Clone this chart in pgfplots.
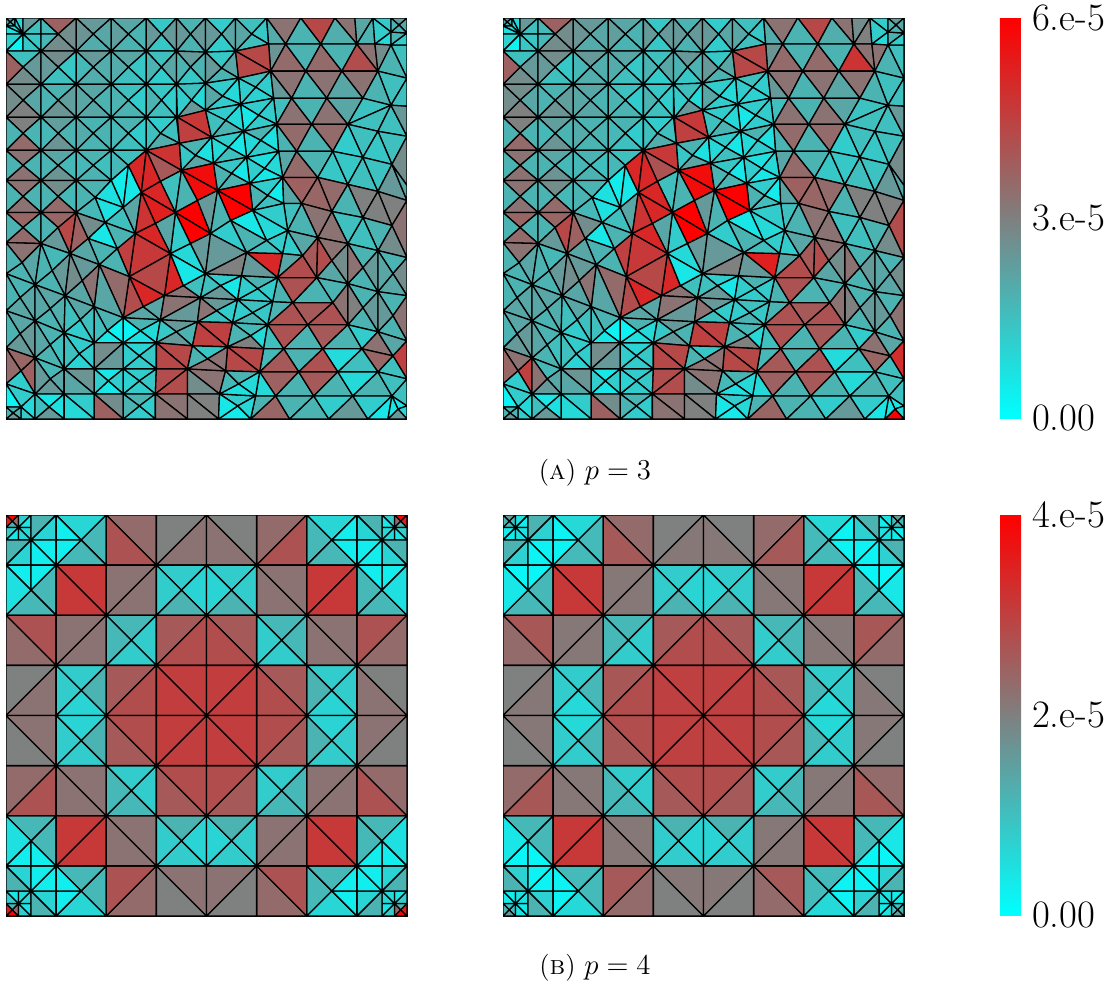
\documentclass[border=0pt]{standalone}
\usepackage{pgfplots}
\pgfplotsset{compat=1.18}
\def\mT#1#2#3#4{(#1) [#4] (#2) [#4] (#3) [#4] }
\def\mQ#1#2#3#4#5#6#7#8#9{\mT{#1}{#2}{#3}{#6}\mT{#1}{#3}{#4}{#7}\mT{#1}{#4}{#5}{#8}\mT{#1}{#5}{#2}{#9}}
\def\mC#1#2{\pick{#1}{#2}}
\def\mP#1#2{(\the\numexpr#1\relax,\the\numexpr#2\relax)}
\def\mTp#1#2#3#4#5#6#7{\mP{#1}{#2} [#7] \mP{#3}{#4} [#7] \mP{#5}{#6} [#7] }
\def\mTb#1#2#3#4#5#6#7{\mTp{#1}{#2}{#3}{#4}{#5}{#6}{#7}%
\mTp{1600-(#1)}{#2}{1600-(#3)}{#4}{1600-(#5)}{#6}{#7}%
\mTp{#1}{1600-(#2)}{#3}{1600-(#4)}{#5}{1600-(#6)}{#7}%
\mTp{1600-(#1)}{1600-(#2)}{1600-(#3)}{1600-(#4)}{1600-(#5)}{1600-(#6)}{#7}}
\def\mD#1#2#3#4#5{\mTb{#1}{#2}{#1+#3}{#2}{#1+#3}{#2+#3}{#4}\mTb{#1}{#2}{#1}{#2+#3}{#1+#3}{#2+#3}{#5}}
\def\mA#1#2#3#4#5{\mTb{#1}{#2}{#1+#3}{#2}{#1}{#2+#3}{#4}\mTb{#1+#3}{#2}{#1+#3}{#2+#3}{#1}{#2+#3}{#5}}
\def\mX#1#2#3#4#5#6#7{\mTb{#1}{#2}{#1+#3}{#2}{#1+#3/2}{#2+#3/2}{#4}\mTb{#1+#3}{#2}{#1+#3}{#2+#3}{#1+#3/2}{#2+#3/2}{#5}\mTb{#1}{#2+#3}{#1+#3}{#2+#3}{#1+#3/2}{#2+#3/2}{#6}\mTb{#1}{#2}{#1}{#2+#3}{#1+#3/2}{#2+#3/2}{#7}}
% ---------- p=3 mesh (pixel coordinates); \mC{left}{right} where the panels differ
\def\meshTop{%
\mQ{10,22}{6,18}{15,18}{15,26}{6,26}{\mC{40}{45}}{30}{30}{30}
\mT{15,18}{23,18}{23,34}{15}\mT{15,18}{23,34}{15,26}{15}\mT{6,26}{15,26}{23,34}{12}\mT{6,26}{23,34}{6,34}{12}
\mT{23,18}{41,18}{23,34}{40}\mT{41,18}{41,34}{23,34}{25}
\mT{6,34}{23,34}{6,51}{18}\mT{23,34}{23,51}{6,51}{5}
\mT{23,34}{41,34}{41,51}{22}\mT{23,34}{23,51}{41,51}{22}
\mT{41,18}{76,18}{58,34}{62}\mT{76,18}{76,51}{58,34}{45}\mT{41,51}{76,51}{58,34}{45}\mT{41,18}{58,34}{41,34}{28}\mT{41,34}{58,34}{41,51}{28}
\mQ{93,34}{76,18}{111,18}{111,51}{76,51}{40}{35}{33}{42}
\mQ{128,34}{111,18}{146,18}{146,51}{111,51}{35}{30}{30}{38}
\mQ{161,34}{146,18}{176,18}{176,51}{146,51}{22}{40}{22}{40}
\mQ{190,34}{176,18}{205,18}{205,52}{176,51}{30}{40}{30}{40}
\mQ{221,34}{205,18}{235,18}{235,51}{205,52}{20}{35}{20}{40}
\mQ{251,34}{235,18}{266,18}{268,44}{235,51}{25}{22}{25}{35}
\mQ{23,67}{6,51}{41,51}{41,84}{6,84}{25}{40}{45}{62}
\mQ{58,67}{41,51}{76,51}{76,84}{41,84}{45}{22}{25}{40}
\mQ{93,67}{76,51}{111,51}{111,84}{76,84}{40}{32}{32}{28}
\mQ{128,67}{111,51}{146,51}{146,84}{111,84}{35}{22}{25}{33}
\mQ{161,67}{146,51}{176,51}{176,84}{146,84}{25}{35}{20}{30}
\mQ{190,67}{176,51}{205,52}{205,83}{176,84}{40}{30}{22}{30}
\mQ{221,68}{205,52}{235,51}{238,78}{205,83}{22}{35}{30}{40}
\mQ{23,100}{6,84}{41,84}{41,117}{6,117}{45}{35}{50}{45}
\mQ{58,100}{41,84}{76,84}{76,117}{41,117}{30}{38}{42}{30}
\mQ{93,100}{76,84}{111,84}{111,117}{76,117}{35}{30}{35}{35}
\mQ{128,100}{111,84}{146,84}{146,117}{111,117}{25}{20}{30}{30}
\mQ{161,100}{146,84}{176,84}{176,117}{146,117}{22}{20}{25}{30}
\mQ{191,100}{176,84}{205,83}{205,110}{177,117}{25}{15}{40}{20}
\mQ{23,133}{6,117}{41,117}{41,150}{6,150}{50}{30}{58}{30}
\mQ{58,133}{41,117}{76,117}{76,150}{41,150}{38}{30}{42}{28}
\mQ{93,133}{76,117}{111,117}{111,150}{76,150}{30}{30}{30}{33}
\mQ{128,133}{111,117}{146,117}{146,150}{111,150}{30}{20}{25}{28}
\mQ{160,133}{146,117}{176,117}{179,143}{146,150}{20}{25}{32}{25}
\mQ{23,165}{6,150}{41,150}{41,180}{6,180}{55}{30}{55}{30}
\mQ{58,165}{41,150}{76,150}{76,180}{41,180}{35}{28}{42}{30}
\mQ{93,165}{76,150}{111,150}{111,180}{76,180}{30}{25}{30}{28}
\mT{111,150}{146,150}{128,165}{25}\mT{111,150}{128,165}{111,180}{28}
\mQ{23,196}{6,180}{41,180}{41,212}{6,212}{55}{30}{55}{30}
\mQ{58,196}{41,180}{76,180}{76,212}{41,212}{45}{28}{58}{30}
\mQ{23,227}{6,212}{41,212}{41,243}{6,242}{60}{30}{58}{30}
\mT{41,212}{76,212}{58,227}{60}\mT{41,212}{58,227}{41,243}{30}\mT{41,243}{58,227}{70,253}{40}\mT{58,227}{76,212}{70,253}{72}\mT{76,212}{88,238}{70,253}{62}
\mT{76,180}{111,180}{95,197}{30}\mT{76,180}{95,197}{76,212}{30}\mT{76,212}{95,197}{105,222}{28}\mT{76,212}{105,222}{88,238}{45}
\mT{111,180}{128,165}{123,207}{8}\mT{128,165}{141,192}{123,207}{10}\mT{95,197}{111,180}{123,207}{12}\mT{95,197}{123,207}{105,222}{12}\mT{123,207}{135,233}{105,222}{25}\mT{123,207}{141,192}{135,233}{35}
\mT{146,150}{179,143}{181,170}{\mC{80}{78}}\mT{146,150}{181,170}{160,181}{\mC{65}{68}}
\mT{128,165}{146,150}{141,192}{85}\mT{146,150}{160,181}{141,192}{85}
\mT{160,181}{181,170}{175,212}{25}\mT{141,192}{160,181}{175,212}{85}\mT{141,192}{175,212}{155,223}{\mC{88}{85}}\mT{141,192}{155,223}{135,233}{80}
\mT{177,117}{205,110}{211,137}{78}\mT{177,117}{211,137}{179,143}{75}
\mQ{195,155}{179,143}{211,137}{213,163}{181,170}{30}{12}{35}{22}
\mT{181,170}{213,163}{217,190}{95}\mT{181,170}{217,190}{197,200}{95}\mT{181,170}{197,200}{175,212}{30}
\mT{175,212}{197,200}{210,233}{100}\mT{175,212}{210,233}{190,243}{100}\mT{197,200}{217,190}{210,233}{40}
\mT{175,212}{190,243}{170,253}{20}\mT{155,223}{175,212}{170,253}{35}
\mT{135,233}{155,223}{170,253}{85}\mT{135,233}{170,253}{129,276}{78}\mT{170,253}{183,285}{164,295}{85}\mT{129,276}{170,253}{164,295}{72}\mT{129,276}{164,295}{143,306}{85}\mT{129,276}{143,306}{123,317}{70}
\mT{117,248}{135,233}{129,276}{75}\mT{105,222}{135,233}{117,248}{30}\mT{99,264}{117,248}{129,276}{30}\mT{99,264}{129,276}{123,317}{58}\mT{94,306}{99,264}{123,317}{35}
\mT{88,238}{105,222}{117,248}{10}\mT{88,238}{117,248}{99,264}{30}\mT{70,253}{88,238}{99,264}{35}
\mQ{22,262}{6,242}{41,243}{35,284}{6,273}{55}{35}{30}{30}
\mQ{52,270}{41,243}{70,253}{65,295}{35,284}{28}{40}{30}{30}
\mQ{82,280}{70,253}{99,264}{94,306}{65,295}{40}{55}{35}{45}
\mQ{20,297}{6,273}{35,284}{35,320}{6,310}{30}{35}{35}{30}
\mQ{50,308}{35,284}{65,295}{64,332}{35,320}{35}{32}{30}{35}
\mQ{80,319}{65,295}{94,306}{94,342}{64,332}{35}{25}{20}{25}
\mQ{107,330}{94,306}{123,317}{123,342}{94,342}{30}{5}{10}{25}
\mQ{20,333}{6,310}{35,320}{35,357}{6,347}{35}{40}{40}{30}
\mQ{50,344}{35,320}{64,332}{64,368}{35,357}{30}{25}{30}{35}
\mQ{79,353}{64,332}{94,342}{94,368}{64,368}{20}{20}{17}{25}
\mT{94,342}{123,342}{94,368}{45}\mT{123,342}{123,368}{94,368}{40}
\mQ{139,355}{123,342}{156,342}{156,368}{123,368}{17}{22}{20}{20}
\mT{123,317}{143,306}{160,319}{35}
\mQ{140,330}{123,317}{160,319}{156,342}{123,342}{30}{15}{12}{5}
\mT{143,306}{164,295}{160,319}{35}\mT{164,295}{183,285}{200,297}{55}\mT{164,295}{200,297}{160,319}{55}
\mT{160,319}{200,297}{197,321}{40}\mT{160,319}{197,321}{176,331}{40}\mT{160,319}{176,331}{156,342}{22}\mT{176,331}{192,345}{156,342}{40}\mT{176,331}{197,321}{192,345}{30}
\mT{183,285}{205,273}{200,297}{25}\mT{170,253}{190,243}{205,273}{15}\mT{170,253}{205,273}{183,285}{10}\mT{190,243}{210,233}{205,273}{40}
\mQ{220,285}{205,273}{241,275}{237,299}{200,297}{20}{10}{40}{25}
\mQ{216,310}{200,297}{237,299}{232,322}{197,321}{40}{20}{25}{55}
\mT{156,342}{192,345}{187,368}{72}\mT{156,342}{187,368}{156,368}{72}
\mT{6,347}{35,357}{21,370}{\mC{60}{55}}\mT{6,347}{21,370}{6,383}{\mC{58}{60}}\mT{21,370}{35,357}{35,393}{\mC{62}{75}}\mT{21,370}{35,393}{6,383}{20}
\mQ{50,378}{35,357}{64,368}{64,393}{35,393}{28}{35}{40}{\mC{40}{55}}
\mT{64,368}{94,368}{94,393}{42}\mT{64,368}{94,393}{64,393}{35}
\mQ{108,380}{94,368}{123,368}{123,393}{94,393}{10}{20}{10}{20}
\mQ{139,380}{123,368}{156,368}{155,393}{123,393}{20}{22}{20}{18}
\mT{156,368}{187,368}{155,393}{70}\mT{187,368}{187,393}{155,393}{70}
\mT{6,383}{35,393}{21,406}{20}\mT{35,393}{35,418}{21,406}{15}\mT{21,418}{35,418}{21,406}{20}\mT{6,383}{21,406}{6,406}{5}
\mQ{13,412}{6,406}{21,406}{21,418}{6,418}{30}{30}{40}{30}
\mQ{49,406}{35,393}{64,393}{64,418}{35,418}{10}{12}{40}{25}
\mT{64,393}{94,393}{94,418}{20}\mT{64,393}{94,418}{64,418}{15}
\mT{94,393}{123,393}{123,418}{45}\mT{94,393}{123,418}{94,418}{62}
\mQ{139,405}{123,393}{155,393}{155,418}{123,418}{30}{20}{20}{30}
\mT{155,393}{187,393}{187,418}{55}\mT{155,393}{187,418}{155,418}{55}
\mT{187,368}{225,370}{219,393}{55}\mT{187,368}{219,393}{187,393}{45}
\mT{187,393}{219,393}{218,418}{50}\mT{187,393}{218,418}{187,418}{50}
% ---------- right half
\mT{266,18}{300,18}{285,44}{55}\mT{266,18}{285,44}{268,44}{33}\mT{300,18}{334,18}{320,44}{72}\mT{300,18}{320,44}{285,44}{30}
\mT{334,18}{354,18}{356,44}{55}\mT{334,18}{356,44}{320,44}{32}\mT{354,18}{372,18}{356,44}{\mC{35}{45}}\mT{372,18}{374,44}{356,44}{\mC{30}{50}}
\mT{372,18}{390,18}{390,32}{20}\mT{372,18}{390,32}{374,44}{20}\mT{374,44}{390,32}{390,45}{15}\mT{390,32}{406,33}{390,45}{30}
\mQ{398,25}{390,18}{406,18}{406,33}{390,32}{40}{35}{30}{30}
\mT{268,44}{285,44}{270,71}{42}\mT{285,44}{305,71}{270,71}{58}\mT{285,44}{320,44}{305,71}{30}\mT{320,44}{341,71}{305,71}{58}\mT{320,44}{356,44}{341,71}{30}
\mT{356,44}{377,71}{341,71}{\mC{70}{80}}\mT{356,44}{374,44}{377,71}{55}\mT{374,44}{390,45}{377,71}{\mC{45}{55}}
\mT{390,45}{406,45}{406,78}{25}\mT{390,45}{406,78}{377,71}{30}\mT{390,45}{406,33}{406,45}{20}
\mT{235,51}{268,44}{270,71}{72}\mT{235,51}{270,71}{238,78}{72}
\mQ{255,87}{238,78}{270,71}{273,98}{240,104}{25}{20}{18}{20}
\mQ{222,96}{205,83}{238,78}{240,104}{205,110}{20}{15}{20}{35}
\mT{270,71}{305,71}{291,98}{55}\mT{270,71}{291,98}{273,98}{40}\mT{305,71}{341,71}{326,98}{55}\mT{305,71}{326,98}{291,98}{30}\mT{341,71}{377,71}{362,98}{55}\mT{341,71}{362,98}{326,98}{35}
\mT{377,71}{406,78}{390,105}{25}\mT{377,71}{390,105}{362,98}{30}\mT{406,78}{406,106}{390,105}{25}
\mT{273,98}{291,98}{276,124}{25}\mT{291,98}{311,124}{276,124}{55}\mT{291,98}{326,98}{311,124}{30}\mT{326,98}{347,124}{311,124}{55}\mT{326,98}{362,98}{347,124}{35}
\mT{362,98}{390,105}{347,124}{24}\mT{390,105}{377,131}{347,124}{25}\mT{390,105}{406,136}{377,131}{25}\mT{390,105}{406,106}{406,136}{40}
\mQ{258,115}{240,104}{273,98}{276,124}{243,131}{20}{20}{20}{10}
\mQ{225,120}{205,110}{240,104}{243,131}{211,137}{20}{15}{30}{25}
\mQ{260,140}{243,131}{276,124}{278,151}{246,157}{30}{12}{20}{15}
\mQ{228,147}{211,137}{243,131}{246,157}{213,163}{20}{10}{25}{15}
\mT{276,124}{311,124}{296,151}{58}\mT{276,124}{296,151}{278,151}{30}\mT{311,124}{347,124}{332,151}{58}\mT{311,124}{332,151}{296,151}{30}
\mT{347,124}{377,131}{362,157}{25}\mT{347,124}{362,157}{332,151}{20}\mT{377,131}{406,136}{391,164}{25}\mT{377,131}{391,164}{362,157}{22}\mT{406,136}{406,185}{391,164}{45}
\mT{278,151}{296,151}{282,177}{35}\mT{296,151}{317,177}{282,177}{58}\mT{296,151}{332,151}{317,177}{30}\mT{332,151}{347,184}{317,177}{22}\mT{332,151}{362,157}{347,184}{22}
\mT{362,157}{377,191}{347,184}{25}\mT{362,157}{391,164}{377,191}{24}\mT{391,164}{406,200}{377,191}{40}\mT{391,164}{406,185}{406,200}{35}
\mQ{264,168}{246,157}{278,151}{282,177}{249,183}{12}{15}{10}{20}
\mQ{231,173}{213,163}{246,157}{249,183}{217,190}{22}{10}{30}{30}
\mQ{267,195}{249,183}{282,177}{283,203}{252,210}{20}{8}{25}{30}
\mT{217,190}{249,183}{252,210}{100}\mT{217,190}{252,210}{230,220}{100}
\mT{282,177}{317,177}{301,203}{62}\mT{282,177}{301,203}{283,203}{35}\mT{317,177}{347,184}{331,211}{58}\mT{317,177}{331,211}{301,203}{60}
\mT{347,184}{377,191}{362,217}{50}\mT{347,184}{362,217}{331,211}{30}\mT{377,191}{406,200}{391,225}{50}\mT{377,191}{391,225}{362,217}{50}\mT{406,200}{406,257}{391,225}{\mC{55}{70}}
\mT{391,225}{406,257}{377,250}{45}\mT{362,217}{391,225}{377,250}{30}\mT{362,217}{377,250}{347,243}{25}\mT{331,211}{362,217}{347,243}{25}\mT{331,211}{347,243}{317,237}{55}\mT{301,203}{331,211}{317,237}{55}
\mT{283,203}{301,203}{287,230}{25}\mT{301,203}{317,237}{287,230}{30}\mT{252,210}{283,203}{287,230}{20}\mT{252,210}{287,230}{266,240}{15}\mT{230,220}{252,210}{266,240}{10}
\mT{230,220}{266,240}{246,252}{30}\mT{287,230}{282,253}{266,240}{20}\mT{287,230}{302,255}{282,253}{20}\mT{287,230}{317,237}{302,255}{35}
\mT{246,252}{282,253}{277,277}{\mC{85}{88}}\mT{266,240}{282,253}{246,252}{25}\mT{282,253}{302,255}{277,277}{35}\mT{302,255}{316,277}{277,277}{70}\mT{302,255}{317,237}{316,277}{65}
\mT{317,237}{331,260}{316,277}{70}\mT{317,237}{347,243}{331,260}{55}\mT{331,260}{347,283}{316,277}{35}\mT{347,243}{347,283}{331,260}{45}
\mQ{362,267}{347,243}{377,250}{377,291}{347,283}{30}{40}{30}{55}
\mQ{392,273}{377,250}{406,257}{406,295}{377,291}{30}{45}{35}{35}
\mQ{362,307}{347,283}{377,291}{377,331}{347,324}{30}{40}{30}{50}
\mQ{392,315}{377,291}{406,295}{406,340}{377,331}{30}{55}{30}{40}
\mT{316,277}{347,283}{332,302}{30}\mT{316,277}{332,302}{292,302}{30}\mT{277,277}{316,277}{292,302}{68}\mT{277,277}{292,302}{272,301}{30}
\mQ{257,288}{241,275}{277,277}{272,301}{237,299}{30}{20}{20}{20}
\mT{217,190}{230,220}{210,233}{30}\mT{230,220}{246,252}{210,233}{20}\mT{210,233}{246,252}{205,273}{40}\mT{246,252}{241,275}{205,273}{50}\mT{246,252}{277,277}{241,275}{40}
\mT{332,302}{347,283}{347,324}{55}\mT{292,302}{332,302}{307,324}{65}\mT{332,302}{347,324}{307,324}{68}\mT{272,301}{292,302}{267,324}{30}\mT{292,302}{307,324}{267,324}{68}
\mQ{252,312}{237,299}{272,301}{267,324}{232,322}{25}{22}{30}{20}
\mT{267,324}{307,324}{283,348}{68}\mT{307,324}{322,348}{283,348}{30}\mT{307,324}{347,324}{322,348}{65}\mT{347,324}{361,348}{322,348}{30}\mT{347,324}{377,331}{361,348}{20}\mT{377,331}{392,355}{361,348}{55}
\mT{377,331}{406,340}{392,355}{35}\mT{406,340}{406,378}{392,355}{\mC{75}{82}}\mT{392,355}{406,378}{377,371}{25}\mT{361,348}{392,355}{377,371}{60}
\mT{361,348}{377,371}{337,371}{25}\mT{322,348}{361,348}{337,371}{14}\mT{283,348}{322,348}{298,371}{30}\mT{322,348}{337,371}{298,371}{68}\mT{283,348}{298,371}{259,371}{65}
\mT{259,371}{298,371}{275,395}{62}\mT{298,371}{313,395}{275,395}{30}\mT{298,371}{337,371}{313,395}{65}\mT{337,371}{352,395}{313,395}{30}\mT{337,371}{377,371}{352,395}{15}\mT{377,371}{391,395}{352,395}{30}\mT{377,371}{406,378}{391,395}{25}\mT{406,378}{406,405}{391,395}{25}
\mT{259,371}{275,395}{255,395}{15}\mT{275,395}{289,418}{250,418}{60}\mT{255,395}{275,395}{250,418}{30}\mT{275,395}{313,395}{289,418}{30}\mT{313,395}{328,418}{289,418}{30}\mT{313,395}{352,395}{328,418}{20}\mT{352,395}{367,418}{328,418}{40}\mT{352,395}{391,395}{367,418}{20}\mT{367,418}{391,395}{387,418}{10}
\mQ{397,408}{391,395}{406,405}{406,418}{387,418}{10}{15}{\mC{40}{100}}{10}
\mQ{237,405}{219,393}{255,395}{250,418}{218,418}{20}{15}{8}{10}
\mT{197,321}{232,322}{227,346}{75}\mT{197,321}{227,346}{192,345}{75}
\mQ{250,335}{232,322}{267,324}{263,348}{227,346}{28}{15}{50}{30}
\mT{267,324}{283,348}{263,348}{25}\mT{263,348}{283,348}{259,371}{28}
\mT{227,346}{263,348}{259,371}{72}\mT{227,346}{259,371}{225,370}{72}
\mQ{238,383}{225,370}{259,371}{255,395}{219,393}{30}{15}{12}{28}
\mQ{207,358}{192,345}{227,346}{225,370}{187,368}{22}{55}{55}{30}
}
% ---------- p=4 mesh, one quadrant, mirrored by \mTb (cell = 200 units)
\def\meshL{%
\mX{0}{0}{50}{100}{60}{30}{90}
\mA{50}{0}{50}{20}{10}\mA{0}{50}{50}{20}{10}\mD{50}{50}{50}{15}{15}
\mA{100}{0}{100}{30}{17}\mA{0}{100}{100}{30}{17}\mD{100}{100}{100}{7}{7}
\mTb{200}{0}{400}{0}{300}{100}{16}\mTb{400}{0}{400}{200}{300}{100}{28}\mTb{200}{200}{400}{200}{300}{100}{28}\mTb{200}{0}{300}{100}{200}{100}{7}\mTb{200}{100}{300}{100}{200}{200}{7}
\mTb{0}{200}{100}{200}{100}{300}{7}\mTb{100}{200}{200}{200}{100}{300}{7}\mTb{200}{200}{200}{400}{100}{300}{28}\mTb{0}{400}{200}{400}{100}{300}{28}\mTb{0}{200}{0}{400}{100}{300}{12}
\mD{200}{200}{200}{78}{78}
\mD{400}{0}{200}{58}{68}\mA{600}{0}{200}{50}{55}
\mD{0}{400}{200}{68}{58}\mA{0}{600}{200}{50}{55}
\mA{200}{400}{200}{55}{55}\mA{400}{200}{200}{55}{55}
\mX{600}{200}{200}{20}{17}{30}{20}\mX{200}{600}{200}{20}{30}{17}{20}\mX{400}{400}{200}{28}{20}{20}{28}
\mA{600}{400}{200}{65}{70}\mA{400}{600}{200}{65}{70}\mD{600}{600}{200}{76}{76}
}
\def\meshR{%
\mX{0}{0}{50}{40}{25}{25}{30}
\mA{50}{0}{50}{12}{8}\mA{0}{50}{50}{8}{8}\mD{50}{50}{50}{12}{12}
\mA{100}{0}{100}{30}{18}\mA{0}{100}{100}{30}{18}\mD{100}{100}{100}{5}{5}
\mTb{200}{0}{400}{0}{300}{100}{15}\mTb{400}{0}{400}{200}{300}{100}{27}\mTb{200}{200}{400}{200}{300}{100}{27}\mTb{200}{0}{300}{100}{200}{100}{5}\mTb{200}{100}{300}{100}{200}{200}{5}
\mTb{0}{200}{100}{200}{100}{300}{4}\mTb{100}{200}{200}{200}{100}{300}{4}\mTb{200}{200}{200}{400}{100}{300}{28}\mTb{0}{400}{200}{400}{100}{300}{28}\mTb{0}{200}{0}{400}{100}{300}{10}
\mD{200}{200}{200}{78}{78}
\mD{400}{0}{200}{58}{65}\mA{600}{0}{200}{50}{53}
\mD{0}{400}{200}{66}{58}\mA{0}{600}{200}{50}{53}
\mA{200}{400}{200}{53}{53}\mA{400}{200}{200}{53}{53}
\mX{600}{200}{200}{20}{17}{30}{20}\mX{200}{600}{200}{20}{28}{15}{20}\mX{400}{400}{200}{28}{20}{20}{28}
\mA{600}{400}{200}{65}{70}\mA{400}{600}{200}{66}{70}\mD{600}{600}{200}{75}{75}
}
\pgfplotsset{
 colormap={cr}{rgb=(0,1,1) rgb=(.5,.5,.5) rgb=(1,0,0)},
 panel/.style={scale only axis,width=200.5pt,height=200.5pt,y dir=reverse,
  xtick=\empty,ytick=\empty,axis line style={line width=0.5pt},
  colormap name=cr,point meta min=0,point meta max=100,anchor=south west},
 toplim/.style={xmin=6,xmax=406,ymin=18,ymax=418},
 botlim/.style={xmin=0,xmax=1600,ymin=0,ymax=1600},
 meshstyle/.style={patch,patch type=triangle,shader=faceted,faceted color=black,
  line width=0.65pt,line join=round,point meta=explicit},
 cbar/.style 2 args={colorbar,colorbar style={at={(1.2394,1)},anchor=north west,
  scale only axis,width=10.5pt,height=200pt,ytick={0,50,100},yticklabels={0.00,#1,#2},
  yticklabel style={font=\fontsize{19.4}{22}\selectfont,xshift=2pt},major tick length=0pt,axis line style={draw=none},
  /pgf/number format/assume math mode=true}},
}
\begin{document}
\begin{tikzpicture}
\useasboundingbox (0,0) rectangle (556.5pt,493.5pt);
\begin{axis}[panel,toplim,at={(3pt,284pt)}]
\def\pick#1#2{#1}
\edef\tmp{\noexpand\addplot[meshstyle] coordinates {\meshTop};}\tmp
\end{axis}
\begin{axis}[panel,toplim,at={(251.5pt,284pt)},cbar={3.e-5}{6.e-5}]
\def\pick#1#2{#2}
\edef\tmp{\noexpand\addplot[meshstyle] coordinates {\meshTop};}\tmp
\end{axis}
\begin{axis}[panel,botlim,at={(3pt,35.5pt)}]
\edef\tmp{\noexpand\addplot[meshstyle] coordinates {\meshL};}\tmp
\end{axis}
\begin{axis}[panel,botlim,at={(251.5pt,35.5pt)},cbar={2.e-5}{4.e-5}]
\edef\tmp{\noexpand\addplot[meshstyle] coordinates {\meshR};}\tmp
\end{axis}
\node[font=\fontsize{13.5}{16}\selectfont] at (297.5pt,257pt) {(\textsc{a}) $p=3$};
\node[font=\fontsize{13.5}{16}\selectfont] at (297.5pt,9.5pt) {(\textsc{b}) $p=4$};
\end{tikzpicture}
\end{document}
